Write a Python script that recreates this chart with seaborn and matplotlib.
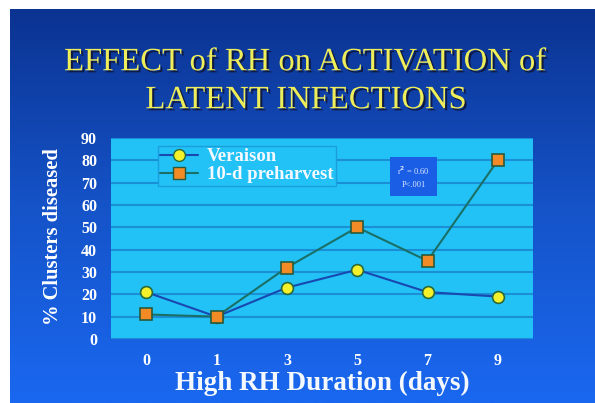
import numpy as np
import pandas as pd
import matplotlib.pyplot as plt
import matplotlib.patheffects as pe
from matplotlib.colors import LinearSegmentedColormap
from matplotlib.lines import Line2D
import seaborn as sns

days = ["0", "1", "3", "5", "7", "9"]
veraison = [21, 10, 23, 31, 21, 19]
preharvest = [11, 10, 32, 50, 35, 80]
y_ticks = [0, 10, 20, 30, 40, 50, 60, 70, 80, 90]

df = pd.DataFrame({"days": days * 2,
                   "pct": veraison + preharvest,
                   "series": ["Veraison"] * 6 + ["10-d preharvest"] * 6})

sns.set_style("white")
plt.rcParams["font.family"] = ["Liberation Serif", "DejaVu Serif"]
plt.rcParams["font.weight"] = "bold"

fig = plt.figure(figsize=(5.95, 4.03), dpi=100)
fig.patch.set_facecolor("white")

# slide background gradient (dark navy on top, bright blue at bottom)
bg = fig.add_axes([10 / 595, 0, 585 / 595, 394 / 403])
grad = np.linspace(0, 1, 256).reshape(-1, 1)
cmap = LinearSegmentedColormap.from_list("slide", ["#0b3391", "#1553c8", "#1a68f0"])
bg.imshow(grad, aspect="auto", cmap=cmap, extent=[0, 1, 0, 1], origin="upper")
bg.set_axis_off()

ax = fig.add_axes([111 / 595, 64 / 403, 422 / 595, 201 / 403])
ax.set_facecolor("#22c2f6")

sns.lineplot(data=df[df.series == "Veraison"], x="days", y="pct", ax=ax, sort=False,
             color="#1848b0", lw=1.5, marker="o", markersize=8.5,
             markerfacecolor="#f4f02a", markeredgecolor="#2a6a3a", markeredgewidth=1.2)
sns.lineplot(data=df[df.series == "10-d preharvest"], x="days", y="pct", ax=ax, sort=False,
             color="#1a6f66", lw=1.5, marker="s", markersize=8,
             markerfacecolor="#f28a25", markeredgecolor="#2a5a3a", markeredgewidth=1.2)

ax.set_xlim(-0.5, 5.5)
ax.set_ylim(0, 90)
ax.set_yticks(y_ticks)
ax.yaxis.grid(True, color="#1a8fd6", lw=1.5)
ax.xaxis.grid(False)
ax.set_axisbelow(True)
for s in ax.spines.values():
    s.set_visible(False)
ax.tick_params(axis="y", length=0, pad=10, labelcolor="white", labelsize=11.5)
ax.tick_params(axis="x", length=0, pad=10, labelcolor="white", labelsize=11.5)
ax.set_xlabel("")
ax.set_ylabel("")

handles = [
    Line2D([], [], color="#1848b0", lw=1.5, marker="o", markersize=8.5,
           markerfacecolor="#f4f02a", markeredgecolor="#2a6a3a"),
    Line2D([], [], color="#1a6f66", lw=1.5, marker="s", markersize=8,
           markerfacecolor="#f28a25", markeredgecolor="#2a5a3a"),
]
leg = ax.legend(handles, ["Veraison", "10-d preharvest"], loc="upper left",
                bbox_to_anchor=(0.111, 0.96), borderaxespad=0, fancybox=False,
                facecolor="#22c2f6", edgecolor="#1a9ee0", framealpha=1,
                labelcolor="#f4f8ff", prop={"weight": "bold", "size": 13.5},
                handlelength=2, borderpad=0.12, labelspacing=0.05, handletextpad=0.5)

ax.text(0.717, 0.808, "r$^2$ = 0.60\nP<.001", transform=ax.transAxes,
        ha="center", va="center", fontsize=6, color="#dce8ff", fontweight="normal",
        linespacing=1.6,
        bbox=dict(boxstyle="square,pad=0.9", fc="#1a5ee6", ec="none"))

fig.text(53 / 595, 1 - 237 / 403, "% Clusters diseased", rotation=90,
         ha="center", va="center", fontsize=14.8, color="white")
fig.text(322 / 595, 1 - 383 / 403, "High RH Duration (days)",
         ha="center", va="center", fontsize=19.5, color="#f4f8ff")

shadow = [pe.withSimplePatchShadow(offset=(1.5, -1.5), shadow_rgbFace="#10102a", alpha=0.8)]
fig.text(305 / 595, 1 - 62 / 403, "EFFECT of RH on ACTIVATION of", ha="center", va="center",
         fontsize=23.5, color="#eeee5a", fontweight="normal", path_effects=shadow)
fig.text(306 / 595, 1 - 100 / 403, "LATENT INFECTIONS", ha="center", va="center",
         fontsize=23.5, color="#eeee5a", fontweight="normal", path_effects=shadow)

fig.savefig("out.png", dpi=100)
